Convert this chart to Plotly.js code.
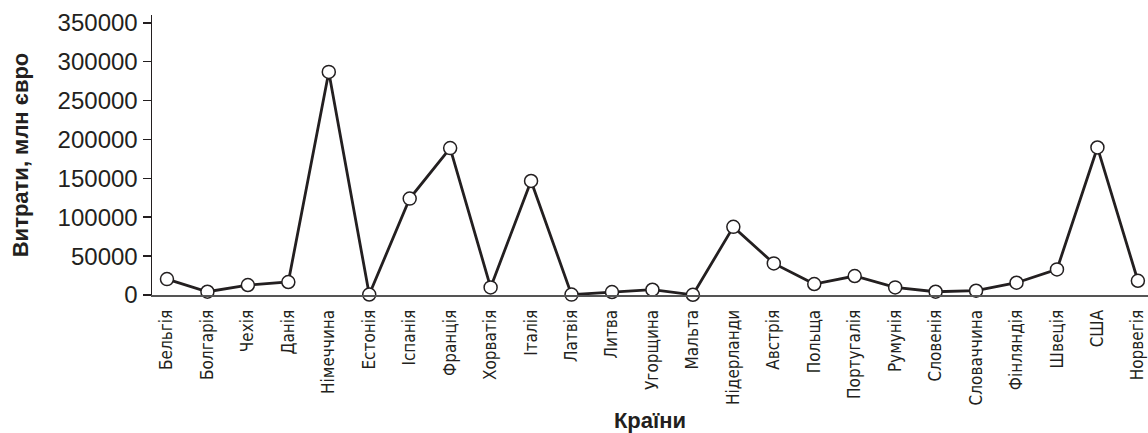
<!DOCTYPE html>
<html>
<head>
<meta charset="utf-8">
<script src="https://cdn.plot.ly/plotly-3.0.1.min.js"></script>
<style>html,body{margin:0;padding:0;background:#fff;}#chart{width:1148px;height:433px;}</style>
</head>
<body>
<div id="chart"></div>
<script>
const countries = ["Бельгія","Болгарія","Чехія","Данія","Німеччина","Естонія","Іспанія","Франція","Хорватія","Італія","Латвія","Литва","Угорщина","Мальта","Нідерланди","Австрія","Польща","Португалія","Румунія","Словенія","Словаччина","Фінляндія","Швеція","США","Норвегія"];
const spending = [20500,4200,12800,16700,286800,600,124000,188900,9800,146600,500,3800,6800,300,87600,40600,14100,24400,9800,4200,5500,15800,32900,189700,18300];
const yTicks = [0,50000,100000,150000,200000,250000,300000,350000];

const ink = "#231f20";
const trace = {
  x: countries,
  y: spending,
  type: "scatter",
  mode: "lines+markers",
  line: {color: ink, width: 2.8},
  marker: {size: 13, color: "#ffffff", line: {color: ink, width: 1.5}},
  cliponaxis: false,
  hoverinfo: "x+y"
};

const layout = {
  width: 1148, height: 433,
  margin: {l: 152, r: 0, t: 15, b: 138},
  paper_bgcolor: "#fff", plot_bgcolor: "#fff",
  showlegend: false,
  font: {family: "Liberation Sans, Arial, sans-serif", color: ink},
  xaxis: {
    type: "category",
    range: [-0.37, 24.25],
    tickangle: -90,
    tickfont: {family: "Liberation Sans Narrow, DejaVu Sans Condensed, Arial Narrow, sans-serif", size: 17, color: ink},
    showgrid: false, zeroline: false,
    showline: true, linecolor: "#555", linewidth: 2,
    ticks: "", ticklabelstandoff: 6,
    title: {text: "<b>Країни</b>", font: {size: 22, color: ink}, standoff: 12},
    fixedrange: true
  },
  yaxis: {
    range: [0, 360000],
    tickvals: yTicks,
    tickformat: "d",
    tickfont: {size: 24, color: ink},
    showgrid: false, zeroline: false,
    showline: true, linecolor: ink, linewidth: 1.5,
    ticks: "outside", ticklen: 8, tickwidth: 1.5, tickcolor: ink,
    title: {text: "<b>Витрати, млн євро</b>", font: {size: 22, color: ink}, standoff: 23},
    fixedrange: true
  }
};

Plotly.newPlot("chart", [trace], layout, {displayModeBar: false, staticPlot: true});
</script>
</body>
</html>
